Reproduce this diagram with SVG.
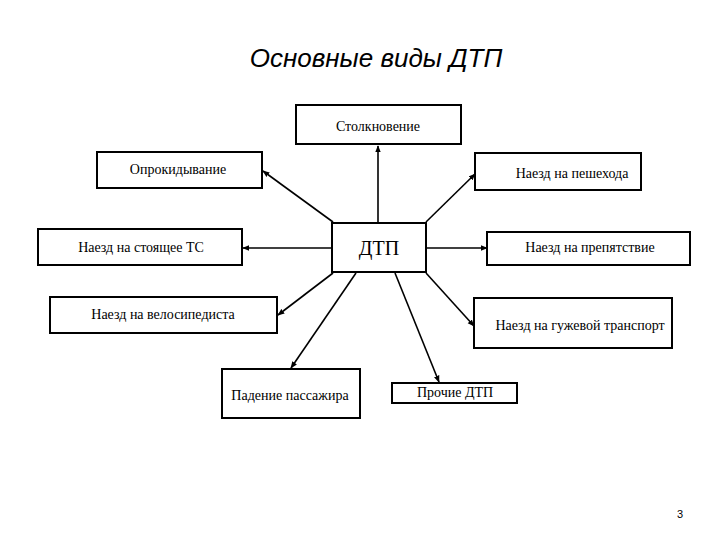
<svg xmlns="http://www.w3.org/2000/svg" width="720" height="540" viewBox="0 0 720 540">
<style>
.box{fill:#fff;stroke:#000;stroke-width:2}
.t{font-family:"Liberation Serif","Times New Roman",serif;font-size:14px;text-anchor:middle;fill:#000}
.c{stroke:#000;stroke-width:1.6;fill:none;marker-end:url(#ah)}
</style>
<defs>
<marker id="ah" viewBox="0 0 10 10" refX="9" refY="5" markerWidth="7" markerHeight="7" markerUnits="userSpaceOnUse" orient="auto">
<path d="M0,1 L10,5 L0,9 z" fill="#000"/>
</marker>
</defs>
<rect width="720" height="540" fill="#fff"/>
<text x="376" y="67" font-family="Liberation Sans,Arial,sans-serif" font-size="26" font-style="italic" text-anchor="middle">Основные виды ДТП</text>
<g id="connectors">
<line class="c" x1="378" y1="222" x2="378" y2="146"/>
<line class="c" x1="333" y1="222" x2="263" y2="171"/>
<line class="c" x1="426" y1="222" x2="475" y2="174"/>
<line class="c" x1="332" y1="248" x2="243" y2="248"/>
<line class="c" x1="426" y1="248" x2="487" y2="248"/>
<line class="c" x1="333" y1="273" x2="278" y2="315"/>
<line class="c" x1="426" y1="273" x2="474" y2="326"/>
<line class="c" x1="356" y1="273" x2="291" y2="368"/>
<line class="c" x1="395" y1="273" x2="439" y2="382"/>
</g>
<g id="n-stolk"><rect class="box" x="296" y="105" width="165" height="39"/><text class="t" x="378" y="131">Столкновение</text></g>
<g id="n-oprok"><rect class="box" x="97" y="152" width="165" height="36"/><text class="t" x="178" y="174">Опрокидывание</text></g>
<g id="n-pesh"><rect class="box" x="475" y="153" width="166" height="37"/><text class="t" x="572" y="178">Наезд на пешехода</text></g>
<g id="n-stoy"><rect class="box" x="38" y="229" width="204" height="36"/><text class="t" x="141" y="252">Наезд на стоящее ТС</text></g>
<g id="n-dtp"><rect class="box" x="332" y="223" width="94" height="49"/><text class="t" x="379" y="255" style="font-size:20px">ДТП</text></g>
<g id="n-prep"><rect class="box" x="487" y="232" width="203" height="33"/><text class="t" x="590" y="252">Наезд на препятствие</text></g>
<g id="n-velo"><rect class="box" x="50" y="297" width="227" height="36"/><text class="t" x="163" y="319">Наезд на велосипедиста</text></g>
<g id="n-guzh"><rect class="box" x="474" y="298" width="198" height="50"/><text class="t" x="580" y="330">Наезд на гужевой транспорт</text></g>
<g id="n-pad"><rect class="box" x="222" y="369" width="138" height="49"/><text class="t" x="290" y="400">Падение пассажира</text></g>
<g id="n-proch"><rect class="box" x="392" y="383" width="125" height="20"/><text class="t" x="455" y="397">Прочие ДТП</text></g>
<text x="680" y="518" font-family="Liberation Sans,Arial,sans-serif" font-size="11" text-anchor="middle">3</text>
</svg>
